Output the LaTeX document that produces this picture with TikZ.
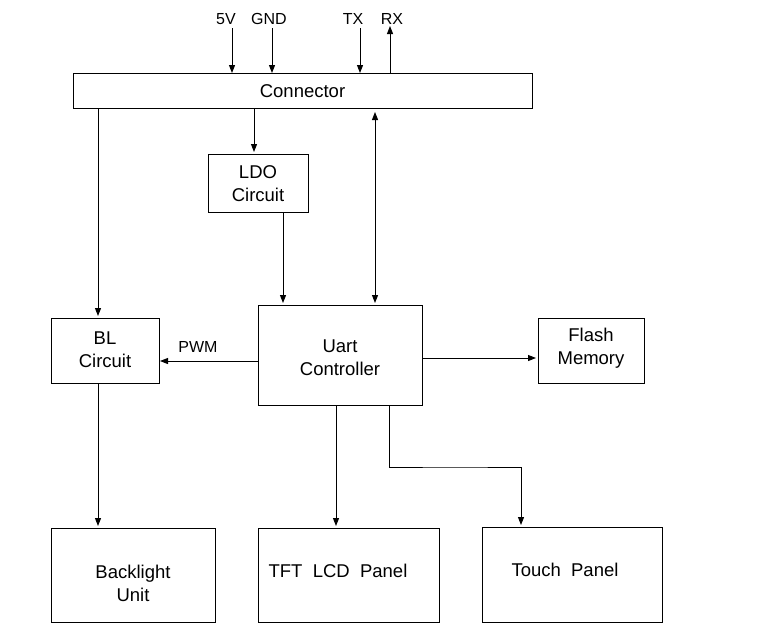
\documentclass[tikz,border=0pt]{standalone}
\usepackage{fontspec}
\setmainfont{Liberation Sans}
\usetikzlibrary{arrows.meta}
\begin{document}
\begin{tikzpicture}[x=1pt,y=-1pt,
  blk/.style={draw, line width=1pt},
  lbl/.style={font=\fontsize{18.5}{23}\selectfont, align=center},
  sig/.style={font=\fontsize{16}{18}\selectfont},
  conn/.style={line width=1pt, -{Triangle[length=8pt,width=6pt]}},
  conn2/.style={line width=1pt, {Triangle[length=8pt,width=6pt]}-{Triangle[length=8pt,width=6pt]}}]
\useasboundingbox (0,0) rectangle (776,635);
% boxes
\draw[blk] (73,73) rectangle (532,108);
\node[lbl] (con) at (302.5,91) {Connector};
\draw[blk] (208,154) rectangle (308,212);
\node[lbl] (ldo) at (258,184) {LDO\\Circuit};
\draw[blk] (51,318) rectangle (159,383);
\node[lbl] (bl) at (105,349.5) {BL\\Circuit};
\draw[blk] (258,305) rectangle (422,405);
\node[lbl] (uart) at (340,358) {Uart\\Controller};
\draw[blk] (538,318) rectangle (644,383);
\node[lbl] (flash) at (591,348) {Flash\\Memory};
\draw[blk] (51,528) rectangle (215,622);
\node[lbl] (back) at (133,583) {Backlight\\Unit};
\draw[blk] (258,528) rectangle (439,622);
\node[lbl] (tft) at (338,571) {TFT\ \ LCD\ \ Panel};
\draw[blk] (482,527) rectangle (662,622);
\node[lbl] (touch) at (565,570) {Touch\ \ Panel};
% top signals
\node[sig] (v5) at (226,19) {5V};
\node[sig] (gnd) at (269,19) {GND};
\node[sig] (tx) at (353,19) {TX};
\node[sig] (rx) at (392,19) {RX};
\coordinate (v5a) at (232,28); \coordinate (v5b) at (232,73);
\coordinate (gnda) at (272,28); \coordinate (gndb) at (272,73);
\coordinate (txa) at (360,28); \coordinate (txb) at (360,73);
\coordinate (rxa) at (390,73); \coordinate (rxb) at (390,26);
\draw[conn] (v5a) -- (v5b);
\draw[conn] (gnda) -- (gndb);
\draw[conn] (txa) -- (txb);
\draw[conn] (rxa) -- (rxb);
% internal connectors
\coordinate (c1a) at (98,108); \coordinate (c1b) at (98,316);
\draw[conn] (c1a) -- (c1b);
\coordinate (c2a) at (254,108); \coordinate (c2b) at (254,152);
\draw[conn] (c2a) -- (c2b);
\coordinate (c3a) at (283,212); \coordinate (c3b) at (283,303);
\draw[conn] (c3a) -- (c3b);
\coordinate (c4a) at (375,303); \coordinate (c4b) at (375,112);
\draw[conn2] (c4a) -- (c4b);
\coordinate (c5a) at (258,361); \coordinate (c5b) at (160,361);
\draw[conn] (c5a) -- (c5b);
\node[sig] (pwm) at (198,347) {PWM};
\coordinate (c6a) at (422,358); \coordinate (c6b) at (536,358);
\draw[conn] (c6a) -- (c6b);
\coordinate (c7a) at (336,405); \coordinate (c7b) at (336,526);
\draw[conn] (c7a) -- (c7b);
\coordinate (c8a) at (98,383); \coordinate (c8b) at (98,526);
\draw[conn] (c8a) -- (c8b);
\coordinate (c9a) at (389,405); \coordinate (c9b) at (521,525);
\draw[conn] (c9a) |- (455,467) -| (c9b);
\end{tikzpicture}
\end{document}
